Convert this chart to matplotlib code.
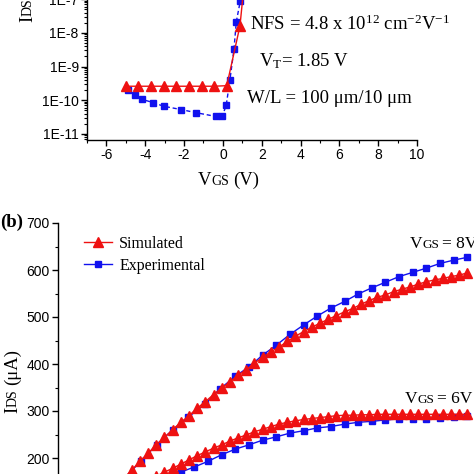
import numpy as np
import matplotlib
matplotlib.use("Agg")
import matplotlib.pyplot as plt
from matplotlib.ticker import MultipleLocator, FuncFormatter, LogLocator, NullFormatter, FixedLocator

plt.rcParams['axes.unicode_minus'] = False
plt.rcParams['mathtext.fontset'] = 'custom'
plt.rcParams['mathtext.rm'] = 'Liberation Serif'
plt.rcParams['mathtext.it'] = 'Liberation Serif:italic'
plt.rcParams['mathtext.bf'] = 'Liberation Serif:bold'

SERIF = 'Liberation Serif'
SANS = 'Liberation Sans'
RED = '#ee1111'
BLUE = '#1111ee'

# ---------------- data: panel (a) transfer curve ----------------
vgs_sim = [-5.0, -4.35, -3.7, -3.05, -2.4, -1.75, -1.1, -0.45, 0.2, 0.88, 1.1]
ids_sim_a = [2.6e-10, 2.6e-10, 2.6e-10, 2.6e-10, 2.6e-10, 2.6e-10, 2.6e-10, 2.6e-10, 2.7e-10,
             1.6e-8, 3e-7]
vgs_exp = [-4.88, -4.54, -4.19, -3.59, -3.04, -2.16, -1.41, -0.36, -0.02, 0.17, 0.36, 0.57,
           0.69, 0.9, 1.05]
ids_exp_a = [2.0e-10, 1.4e-10, 1.07e-10, 8.5e-11, 6.6e-11, 5.3e-11, 4.3e-11, 3.3e-11, 3.5e-11,
             7.0e-11, 3.9e-10, 3.2e-9, 2.1e-8, 9e-8, 4e-7]
ytick_a = [1e-11, 1e-10, 1e-9, 1e-8, 1e-7]

# ---------------- data: panel (b) output curves ----------------
vds_sim_8 = [4.8, 5.4, 6.0, 6.6, 7.2, 7.8, 8.4, 9.0, 9.6, 10.2, 10.8, 11.4, 12.0, 12.6, 13.2,
             13.8, 14.4, 15.0, 15.6, 16.2, 16.8, 17.4, 18.0, 18.6, 19.2, 19.8, 20.4, 21.0, 21.6,
             22.2, 22.8, 23.4, 24.0, 24.6, 25.2, 25.8, 26.4, 27.0, 27.6, 28.2, 28.8, 29.4, 30.0]
ids_sim_8 = [156, 174, 193, 210, 228, 244, 260, 276, 290, 306, 320, 335, 349, 362, 376, 388,
             402, 414, 426, 436, 448, 459, 469, 478, 487, 495, 503, 511, 518, 527, 535, 542,
             547, 554, 559, 564, 570, 575, 579, 582, 586, 589, 594]
vds_sim_6 = [7.2, 7.8, 8.4, 9.0, 9.6, 10.2, 10.8, 11.4, 12.0, 12.6, 13.2, 13.8, 14.4, 15.0,
             15.6, 16.2, 16.8, 17.4, 18.0, 18.6, 19.2, 19.8, 20.4, 21.0, 21.6, 22.2, 22.8, 23.4,
             24.0, 24.6, 25.2, 25.8, 26.4, 27.0, 27.6, 28.2, 28.8, 29.4, 30.0]
ids_sim_6 = [161, 170, 178, 187, 196, 205, 213, 221, 228, 236, 243, 249, 256, 261, 267, 272,
             276, 279, 282, 284, 286, 288, 290, 291, 291, 292, 292, 293, 293, 293, 293, 293,
             293, 293, 293, 293, 293, 293, 293]
vds_exp_8 = [4.9, 6.06, 7.23, 8.4, 9.55, 10.77, 11.87, 13.0, 14, 15, 16, 17, 18, 19, 20, 21,
             22, 23, 24, 25, 26, 27, 28, 29, 30]
ids_exp_8 = [158, 193, 228, 260, 287, 315, 347, 374, 394, 419, 440, 463, 483, 502, 519, 533,
             549, 562, 574, 586, 595, 604, 614, 621, 627]
vds_exp_6 = [8, 9, 10, 11, 12, 13, 14, 15, 16, 17, 18, 19, 20, 21, 22, 23, 24, 25, 26, 27,
             28, 29, 30]
ids_exp_6 = [158, 170, 181, 193, 207, 219, 228, 238, 245, 253, 258, 264, 267, 272, 276, 278,
             281, 283, 283, 284, 286, 288, 290]
ytick_b = [200, 300, 400, 500, 600, 700]

W = H = 474
fig = plt.figure(figsize=(4.74, 4.74), dpi=100)


def fx(px):
    return px / W


def fy(py):
    return 1 - py / H


def axes_px(left, top, right, bottom):
    return fig.add_axes([fx(left), fy(bottom), (right - left) / W, (bottom - top) / H])


# ---------------- panel (a) ----------------
ax1 = axes_px(87, -2.6, 417, 140)
ax1.set_yscale('log')
ax1.set_xlim(-7, 10)
ax1.set_ylim(10 ** -11.18, 10 ** -6.95)
ax1.plot(vgs_sim, ids_sim_a, color=RED, lw=1.0, marker='^', ms=6.5, mec=RED, mfc=RED, zorder=3)
ax1.plot(vgs_exp, ids_exp_a, color=BLUE, lw=1.0, ls=(0, (3, 2)), marker='s', ms=4.5,
         mec=BLUE, mfc=BLUE, zorder=2)
ax1.xaxis.set_major_locator(MultipleLocator(2))
ax1.xaxis.set_minor_locator(MultipleLocator(1))
ax1.yaxis.set_major_locator(FixedLocator(ytick_a))
ax1.yaxis.set_minor_locator(LogLocator(base=10, subs=np.arange(2, 10), numticks=20))
ax1.yaxis.set_minor_formatter(NullFormatter())
ax1.yaxis.set_major_formatter(FuncFormatter(lambda v, p: "1E%d" % int(round(np.log10(v)))))

# ---------------- panel (b) ----------------
ax2 = axes_px(58, 223, 481, 552)
ax2.set_xlim(0, 31)
ax2.set_ylim(0, 700)
ax2.plot(vds_sim_8, ids_sim_8, color=RED, lw=1.0, marker='^', ms=6.5, mec=RED, mfc=RED,
         zorder=3, label='Simulated')
ax2.plot(vds_exp_8, ids_exp_8, color=BLUE, lw=1.0, marker='s', ms=4.5, mec=BLUE, mfc=BLUE,
         zorder=2, label='Experimental')
ax2.plot(vds_sim_6, ids_sim_6, color=RED, lw=1.0, marker='^', ms=6.5, mec=RED, mfc=RED, zorder=3)
ax2.plot(vds_exp_6, ids_exp_6, color=BLUE, lw=1.0, marker='s', ms=4.5, mec=BLUE, mfc=BLUE, zorder=2)
ax2.yaxis.set_major_locator(FixedLocator(ytick_b))
ax2.yaxis.set_minor_locator(MultipleLocator(50))
ax2.xaxis.set_major_locator(MultipleLocator(5))
ax2.tick_params(axis='x', labelbottom=False)

for ax in (ax1, ax2):
    for s in ('top', 'right'):
        ax.spines[s].set_visible(False)
    for s in ('left', 'bottom'):
        ax.spines[s].set_linewidth(1.0)
    ax.tick_params(which='major', direction='out', length=4, width=1, labelsize=10, pad=2)
    ax.tick_params(which='minor', direction='out', length=2.2, width=0.8)
    for lab in ax.get_xticklabels() + ax.get_yticklabels():
        lab.set_family(SANS)

leg = ax2.legend(loc='upper left', bbox_to_anchor=(fx(84), fy(236)), bbox_transform=fig.transFigure,
                 frameon=False, prop={'family': SERIF, 'size': 11.5}, handlelength=1.75,
                 handletextpad=0.45, borderpad=0, borderaxespad=0, labelspacing=0.35)

renderer = fig.canvas.get_renderer()


def rich(x, y, parts, rot=False):
    off = 0.0
    for s, size, gap in parts:
        off += gap
        if not rot:
            t = fig.text(fx(x + off), fy(y), s, fontsize=size, family=SERIF, ha='left',
                         va='baseline')
            off += t.get_window_extent(renderer).width
        else:
            t = fig.text(fx(x), fy(y - off), s, fontsize=size, family=SERIF, rotation=90,
                         rotation_mode='anchor', ha='left', va='baseline')
            off += t.get_window_extent(renderer).height


# axis labels
rich(198, 185, [("V", 13.5, 0), ("GS", 10, 0), ("(V)", 13.5, 4)])
rich(32, 22, [("I", 13.5, 0), ("DS", 10, 0)], rot=True)
rich(17, 413, [("I", 13.5, 0), ("DS", 10, 0), ("(\u03bcA)", 13.5, 4)], rot=True)

# annotations panel (a)
fig.text(fx(250), fy(30), r"NFS = 4.8 x 10$^{12}$ cm$^{-2}$V$^{-1}$", fontsize=13.5,
         family=SERIF, ha='left', va='baseline')
fig.text(fx(259), fy(66), r"V$_{\mathrm{T}}$= 1.85 V", fontsize=13.5, family=SERIF,
         ha='left', va='baseline')
fig.text(fx(247), fy(103), "W/L = 100 \u03bcm/10 \u03bcm", fontsize=13.5, family=SERIF,
         ha='left', va='baseline')

# annotations panel (b)
rich(410, 248, [("V", 12.5, 0), ("GS", 9.5, 0), ("= 8V", 12.5, 3)])
rich(405, 403, [("V", 12.5, 0), ("GS", 9.5, 0), ("= 6V", 12.5, 3)])
fig.text(fx(0), fy(227), "(b)", fontsize=13.5, family=SERIF, weight='bold', ha='left',
         va='baseline')

fig.savefig("out.png", dpi=100)
